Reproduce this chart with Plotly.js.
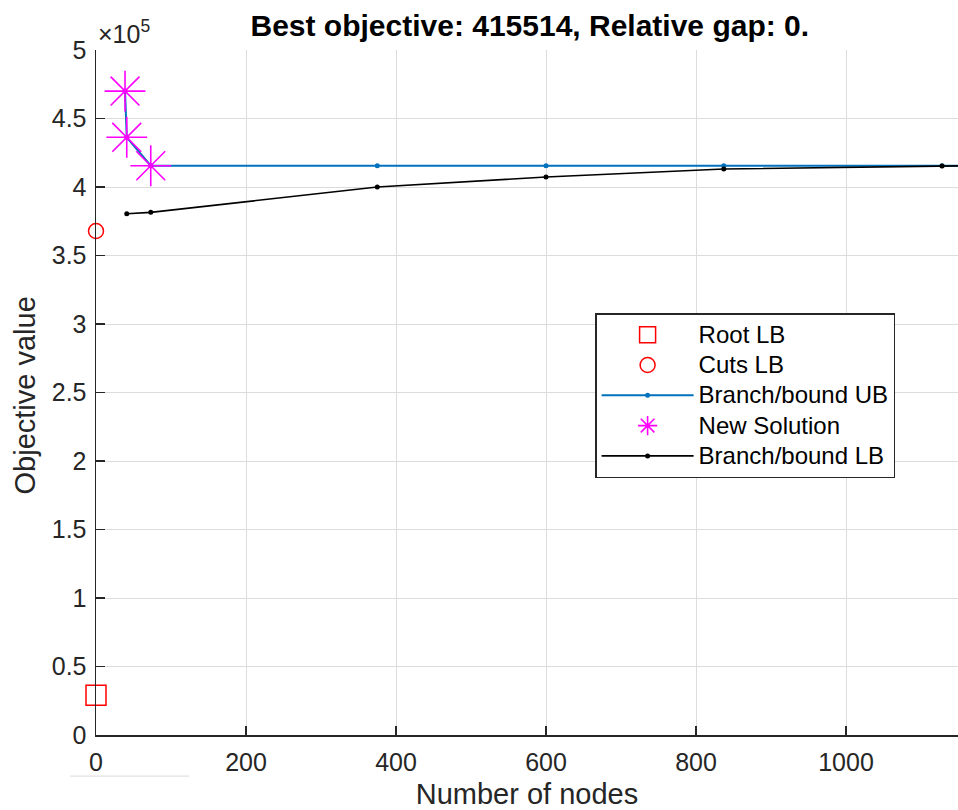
<!DOCTYPE html>
<html>
<head>
<meta charset="utf-8">
<script src="https://cdn.plot.ly/plotly-3.0.1.min.js"></script>
<style>html,body{margin:0;padding:0;background:#fff;}#chart{width:958px;height:810px;}</style>
</head>
<body>
<div id="chart"></div>
<script>
// Data
const rootX = [0];
const rootY = [29000];
const cutsX = [0];
const cutsY = [367900];
const ubX = [38.7, 41, 73, 375, 600, 837, 1128, 1165];
const ubY = [470000, 436300, 415514, 415514, 415514, 415514, 415514, 415514];
const solX = [38.7, 41, 73];
const solY = [470000, 436300, 415514];
const lbX = [41, 73, 375, 600, 837, 1128, 1165];
const lbY = [380500, 381500, 400000, 407300, 413100, 415400, 415514];
const seriesNames = ["Root LB", "Cuts LB", "Branch/bound UB", "New Solution", "Branch/bound LB"];
const yTickVals = [0, 50000, 100000, 150000, 200000, 250000, 300000, 350000, 400000, 450000, 500000];
const yTickText = ["0", "0.5", "1", "1.5", "2", "2.5", "3", "3.5", "4", "4.5", "5"];
const xTickVals = [0, 200, 400, 600, 800, 1000];

const FONT = "Liberation Sans, Arial, Helvetica, sans-serif";
const AX = "#262626";
const lg = s => '<span style="font-size:24px">' + s + '</span>';

const traces = [
  {x: rootX, y: rootY, name: lg(seriesNames[0]), mode: "markers", legendgroup: "a", cliponaxis: false,
   marker: {symbol: "square-open", size: 20, color: "#ff0000", line: {width: 1.5, color: "#ff0000"}}},
  {x: cutsX, y: cutsY, name: lg(seriesNames[1]), mode: "markers", legendgroup: "b", cliponaxis: false,
   marker: {symbol: "circle-open", size: 15, color: "#ff0000", line: {width: 1.5, color: "#ff0000"}}},
  {x: ubX, y: ubY, name: lg(seriesNames[2]), mode: "lines+markers", legendgroup: "c",
   line: {color: "#0072BD", width: 2}, marker: {symbol: "circle", size: 5, color: "#0072BD"}},
  {x: solX, y: solY, name: lg(seriesNames[3]), mode: "markers", legendgroup: "d", cliponaxis: false,
   marker: {symbol: "asterisk-open", size: 34, color: "#ff00ff", line: {width: 1.6, color: "#ff00ff"}}},
  {x: lbX, y: lbY, name: lg(seriesNames[4]), mode: "lines+markers", legendgroup: "e",
   line: {color: "#000000", width: 1.6}, marker: {symbol: "circle", size: 5, color: "#000000"}}
];

const layout = {
  width: 958, height: 810,
  margin: {l: 96, r: 0, t: 50, b: 75, autoexpand: false},
  paper_bgcolor: "#ffffff", plot_bgcolor: "#ffffff",
  font: {family: FONT, color: AX},
  title: {text: "<b>Best objective: 415514, Relative gap: 0.</b>", font: {size: 30, color: "#000000", family: FONT},
          x: 0.553, xanchor: "center", y: 0.969, yanchor: "middle"},
  showlegend: true,
  legend: {x: 0.579, y: 0.616, xanchor: "left", yanchor: "top", bgcolor: "#ffffff",
           bordercolor: AX, borderwidth: 1.5, font: {size: 21, color: "#000000", family: FONT},
           tracegroupgap: 0, itemwidth: 92},
  xaxis: {range: [0, 1149.3], tickvals: xTickVals, ticks: "inside", ticklen: 9, tickwidth: 1.5, tickcolor: AX,
          showline: true, linecolor: AX, linewidth: 1.5, showgrid: true, gridcolor: "#dcdcdc", gridwidth: 1,
          zeroline: false, tickfont: {size: 25, color: AX, family: FONT}, automargin: false, ticklabelstandoff: 4,
          title: {text: "Number of nodes", font: {size: 29, color: AX, family: FONT}, standoff: 16}},
  yaxis: {range: [0, 500000], tickvals: yTickVals, ticktext: yTickText, ticks: "inside", ticklen: 9, tickwidth: 1.5,
          tickcolor: AX, showline: true, linecolor: AX, linewidth: 1.5, showgrid: true, gridcolor: "#dcdcdc", gridwidth: 1,
          zeroline: false, tickfont: {size: 25, color: AX, family: FONT}, automargin: false, ticklabelstandoff: 3},
  annotations: [
    {xref: "paper", yref: "paper", x: 0.0, y: 1.0, xanchor: "left", yanchor: "bottom", yshift: 0,
     text: "×10<sup>5</sup>", showarrow: false, font: {size: 25, color: AX, family: FONT}},
    {xref: "paper", yref: "paper", x: 0.0, y: 0.5, xanchor: "center", yanchor: "middle", xshift: -72, yshift: -3,
     textangle: -90, text: "Objective value", showarrow: false, font: {size: 29, color: AX, family: FONT}}
  ],
  shapes: [
    {type: "line", xref: "paper", yref: "paper", x0: -0.03, x1: 0.108, y0: -0.06, y1: -0.06,
     line: {color: "#d8d8d8", width: 1}}
  ]
};

Plotly.newPlot("chart", traces, layout, {displayModeBar: false, staticPlot: true});
</script>
</body>
</html>
